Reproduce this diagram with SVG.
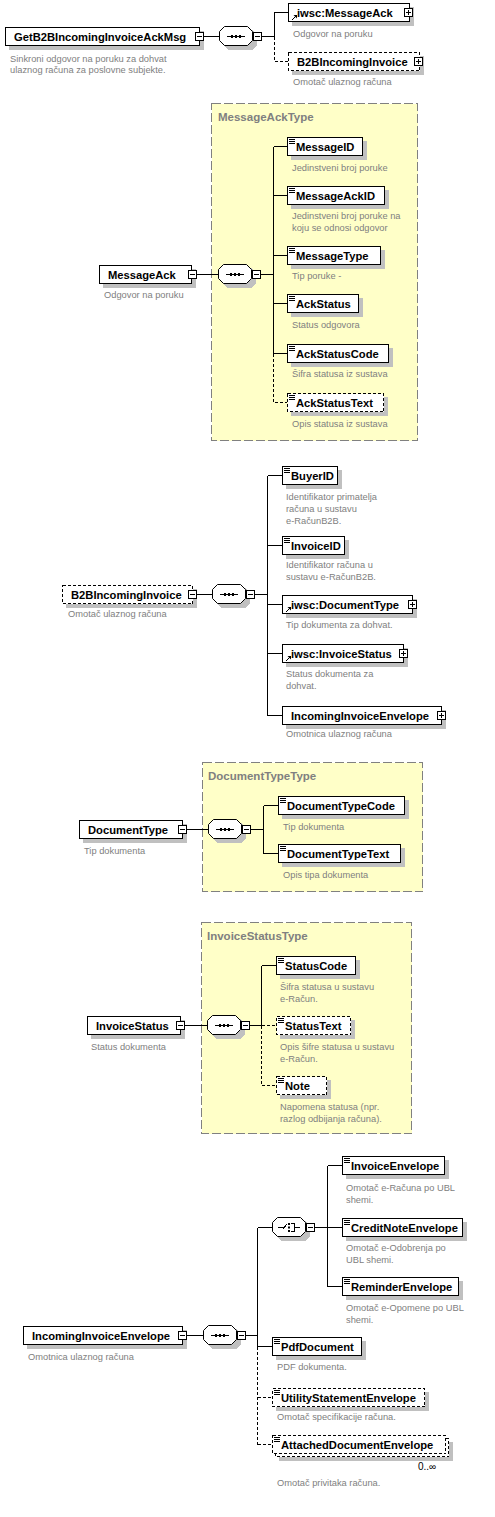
<svg xmlns="http://www.w3.org/2000/svg" width="495" height="1517" viewBox="0 0 495 1517">
<style>
.bg{fill:#ffffff}
.box{fill:#ffffff;stroke:#000;stroke-width:1;shape-rendering:crispEdges}
.dbox{fill:#ffffff;stroke:#000;stroke-width:1;stroke-dasharray:3,2;shape-rendering:crispEdges}
.sh{fill:#c0c0c0;stroke:none;shape-rendering:crispEdges}
.ylw{fill:#ffffc8;stroke:#808080;stroke-width:1;stroke-dasharray:9,3;shape-rendering:crispEdges}
.name{font-family:"Liberation Sans",Arial,sans-serif;font-weight:bold;font-size:11.2px;fill:#000}
.ttl{font-family:"Liberation Sans",Arial,sans-serif;font-weight:bold;font-size:11.5px;fill:#808080}
.desc{font-family:"Liberation Sans",Arial,sans-serif;font-size:9.3px;fill:#808080}
.occ{font-family:"Liberation Sans",Arial,sans-serif;font-size:10px;fill:#000}
.ln{stroke:#000;stroke-width:1;fill:none;shape-rendering:crispEdges}
.dl{stroke:#000;stroke-width:1;fill:none;stroke-dasharray:3,2;shape-rendering:crispEdges}
.oct{fill:#ffffff;stroke:#000;stroke-width:1}
.blk{fill:#000;stroke:none}
</style>
<defs>
<g id="minus"><rect class="box" x="0.5" y="0.5" width="8" height="8"/><line class="ln" x1="2" y1="4.5" x2="7" y2="4.5"/></g>
<g id="plus"><rect class="box" x="0.5" y="0.5" width="8" height="8"/><line class="ln" x1="2" y1="4.5" x2="7" y2="4.5"/><line class="ln" x1="4.5" y1="2" x2="4.5" y2="7"/></g>
<g id="seq">
<polygon class="sh" points="9,4 33,4 38,9 38,19 33,24 9,24 4,19 4,9"/>
<polygon class="oct" points="5.5,0.5 28.5,0.5 33.5,5.5 33.5,14.5 28.5,19.5 5.5,19.5 0.5,14.5 0.5,5.5"/>
<line class="ln" x1="8" y1="10.5" x2="26" y2="10.5"/>
<rect class="blk" x="12" y="9" width="2" height="3"/><rect class="blk" x="16" y="9" width="2" height="3"/><rect class="blk" x="20" y="9" width="2" height="3"/>
</g>
<g id="cho">
<polygon class="sh" points="9,4 33,4 38,9 38,19 33,24 9,24 4,19 4,9"/>
<polygon class="oct" points="5.5,0.5 28.5,0.5 33.5,5.5 33.5,14.5 28.5,19.5 5.5,19.5 0.5,14.5 0.5,5.5"/>
<path class="ln" d="M6,10.5 H11 M10.5,12.5 L14.5,7.5"/>
<rect class="blk" x="16" y="6" width="2" height="2"/><rect class="blk" x="16" y="9.5" width="2" height="2"/><rect class="blk" x="16" y="13" width="2" height="2"/>
<path class="ln" d="M19,6.5 H22.5 V14.5 H19 M22.5,10.5 H28"/>
</g>
<g id="eq"><path class="ln" d="M2,2.5 H8 M2,4.5 H8 M2,6.5 H8"/></g>
<g id="ref"><path class="ln" d="M2,0 L6,-4"/><polygon class="blk" points="3.5,-5 7,-5 7,-1.5"/></g>
</defs>
<rect class="bg" x="0" y="0" width="495" height="1517"/>

<!-- yellow type boxes -->
<g id="MessageAckType">
<rect class="ylw" x="211.5" y="103.5" width="206" height="337"/>
<text class="ttl" x="218" y="121">MessageAckType</text>
</g>
<g id="DocumentTypeType">
<rect class="ylw" x="202.5" y="762.5" width="220" height="129"/>
<text class="ttl" x="208" y="780">DocumentTypeType</text>
</g>
<g id="InvoiceStatusType">
<rect class="ylw" x="201.5" y="922.5" width="210" height="211"/>
<text class="ttl" x="207" y="940">InvoiceStatusType</text>
</g>

<!-- connectors -->
<g id="connectors">
<path class="ln" d="M204,36.5 H219 M262,36.5 H274.5 M274.5,36.5 V12.5 H288"/>
<path class="dl" d="M274.5,36.5 V61.5 H288"/>
<path class="ln" d="M197,274.5 H218 M261,274.5 H273.5 M273.5,146.5 V353.5 M273.5,146.5 H287 M273.5,195.5 H287 M273.5,255.5 H287 M273.5,303.5 H287 M273.5,353.5 H287"/>
<path class="dl" d="M273.5,353.5 V402.5 H287"/>
<path class="ln" d="M197,594.5 H212 M255,594.5 H267.5 M267.5,475.5 V715.5 M267.5,475.5 H282 M267.5,545.5 H282 M267.5,604.5 H282 M267.5,653.5 H282 M267.5,715.5 H282"/>
<path class="ln" d="M187,829.5 H208 M251,829.5 H263.5 M263.5,805.5 V853.5 M263.5,805.5 H278 M263.5,853.5 H278"/>
<path class="ln" d="M185,1025.5 H207 M250,1025.5 H261.5 M261.5,965.5 V1025.5 M261.5,965.5 H276"/>
<path class="dl" d="M261.5,1025.5 H276 M261.5,1025.5 V1085.5 H276"/>
<path class="ln" d="M187,1335.5 H203 M246,1335.5 H257.5 M257.5,1227.5 V1346.5 M257.5,1227.5 H272 M257.5,1346.5 H272 M315,1227.5 H327.5 M327.5,1165.5 V1286.5 M327.5,1165.5 H342 M327.5,1227.5 H342 M327.5,1286.5 H342"/>
<path class="dl" d="M257.5,1346.5 V1444.5 M257.5,1397.5 H272 M257.5,1444.5 H272"/>
</g>

<!-- section 1 -->
<g id="GetB2BIncomingInvoiceAckMsg">
<rect class="sh" x="9" y="31" width="195" height="19"/>
<rect class="box" x="5.5" y="27.5" width="194" height="18"/>
<text class="name" x="14" y="41">GetB2BIncomingInvoiceAckMsg</text>
<use href="#minus" x="195" y="32"/>
<text class="desc" x="10" y="62">Sinkroni odgovor na poruku za dohvat</text>
<text class="desc" x="10" y="73">ulaznog računa za poslovne subjekte.</text>
</g>
<g id="seq1"><use href="#seq" x="219" y="26"/><use href="#minus" x="253" y="32"/></g>
<g id="iwsc_MessageAck">
<rect class="sh" x="292" y="7" width="122" height="19"/>
<rect class="box" x="288.5" y="3.5" width="121" height="18"/>
<use href="#ref" x="290" y="20"/>
<text class="name" x="297" y="17">iwsc:MessageAck</text>
<use href="#plus" x="404" y="8"/>
<text class="desc" x="293" y="37">Odgovor na poruku</text>
</g>
<g id="B2BIncomingInvoice_ref">
<rect class="sh" x="292" y="56" width="132" height="19"/>
<rect class="dbox" x="288.5" y="52.5" width="131" height="18"/>
<text class="name" x="297" y="66">B2BIncomingInvoice</text>
<use href="#plus" x="414" y="57"/>
<text class="desc" x="293" y="85">Omotač ulaznog računa</text>
</g>

<!-- section 2 -->
<g id="MessageAck">
<rect class="sh" x="103" y="269" width="93" height="19"/>
<rect class="box" x="99.5" y="265.5" width="92" height="18"/>
<text class="name" x="108" y="279">MessageAck</text>
<use href="#minus" x="188" y="270"/>
<text class="desc" x="104" y="298">Odgovor na poruku</text>
</g>
<g id="seq2"><use href="#seq" x="218" y="264"/><use href="#minus" x="252" y="270"/></g>
<g id="MessageID">
<rect class="sh" x="291" y="141" width="76" height="19"/>
<rect class="box" x="287.5" y="137.5" width="75" height="18"/>
<use href="#eq" x="287" y="137"/>
<text class="name" x="296" y="151">MessageID</text>
<text class="desc" x="292" y="171">Jedinstveni broj poruke</text>
</g>
<g id="MessageAckID">
<rect class="sh" x="291" y="190" width="98" height="19"/>
<rect class="box" x="287.5" y="186.5" width="97" height="18"/>
<use href="#eq" x="287" y="186"/>
<text class="name" x="296" y="200">MessageAckID</text>
<text class="desc" x="292" y="219">Jedinstveni broj poruke na</text>
<text class="desc" x="292" y="231">koju se odnosi odgovor</text>
</g>
<g id="MessageType">
<rect class="sh" x="291" y="250" width="94" height="19"/>
<rect class="box" x="287.5" y="246.5" width="93" height="18"/>
<use href="#eq" x="287" y="246"/>
<text class="name" x="296" y="260">MessageType</text>
<text class="desc" x="292" y="279">Tip poruke -</text>
</g>
<g id="AckStatus">
<rect class="sh" x="291" y="298" width="72" height="19"/>
<rect class="box" x="287.5" y="294.5" width="71" height="18"/>
<use href="#eq" x="287" y="294"/>
<text class="name" x="296" y="308">AckStatus</text>
<text class="desc" x="292" y="328">Status odgovora</text>
</g>
<g id="AckStatusCode">
<rect class="sh" x="291" y="348" width="102" height="19"/>
<rect class="box" x="287.5" y="344.5" width="101" height="18"/>
<use href="#eq" x="287" y="344"/>
<text class="name" x="296" y="358">AckStatusCode</text>
<text class="desc" x="292" y="377">Šifra statusa iz sustava</text>
</g>
<g id="AckStatusText">
<rect class="sh" x="291" y="397" width="97" height="19"/>
<rect class="dbox" x="287.5" y="393.5" width="96" height="18"/>
<use href="#eq" x="287" y="393"/>
<text class="name" x="296" y="407">AckStatusText</text>
<text class="desc" x="292" y="427">Opis statusa iz sustava</text>
</g>

<!-- section 3 -->
<g id="B2BIncomingInvoice">
<rect class="sh" x="66" y="589" width="131" height="19"/>
<rect class="dbox" x="62.5" y="585.5" width="130" height="18"/>
<text class="name" x="71" y="599">B2BIncomingInvoice</text>
<use href="#minus" x="188" y="590"/>
<text class="desc" x="68" y="617">Omotač ulaznog računa</text>
</g>
<g id="seq3"><use href="#seq" x="212" y="584"/><use href="#minus" x="246" y="590"/></g>
<g id="BuyerID">
<rect class="sh" x="286" y="470" width="56" height="19"/>
<rect class="box" x="282.5" y="466.5" width="55" height="18"/>
<use href="#eq" x="282" y="466"/>
<text class="name" x="291" y="480">BuyerID</text>
<text class="desc" x="286" y="500">Identifikator primatelja</text>
<text class="desc" x="286" y="512">računa u sustavu</text>
<text class="desc" x="286" y="524">e-RačunB2B.</text>
</g>
<g id="InvoiceID">
<rect class="sh" x="286" y="540" width="63" height="19"/>
<rect class="box" x="282.5" y="536.5" width="62" height="18"/>
<use href="#eq" x="282" y="536"/>
<text class="name" x="291" y="550">InvoiceID</text>
<text class="desc" x="286" y="568">Identifikator računa u</text>
<text class="desc" x="286" y="580">sustavu e-RačunB2B.</text>
</g>
<g id="iwsc_DocumentType">
<rect class="sh" x="286" y="599" width="131" height="19"/>
<rect class="box" x="282.5" y="595.5" width="130" height="18"/>
<use href="#ref" x="284" y="612"/>
<text class="name" x="291" y="609">iwsc:DocumentType</text>
<use href="#plus" x="408" y="600"/>
<text class="desc" x="286" y="628">Tip dokumenta za dohvat.</text>
</g>
<g id="iwsc_InvoiceStatus">
<rect class="sh" x="286" y="648" width="122" height="19"/>
<rect class="box" x="282.5" y="644.5" width="121" height="18"/>
<use href="#ref" x="284" y="661"/>
<text class="name" x="291" y="658">iwsc:InvoiceStatus</text>
<use href="#plus" x="399" y="649"/>
<text class="desc" x="286" y="677">Status dokumenta za</text>
<text class="desc" x="286" y="689">dohvat.</text>
</g>
<g id="IncomingInvoiceEnvelope_ref">
<rect class="sh" x="286" y="710" width="160" height="19"/>
<rect class="box" x="282.5" y="706.5" width="159" height="18"/>
<text class="name" x="291" y="720">IncomingInvoiceEnvelope</text>
<use href="#plus" x="437" y="711"/>
<text class="desc" x="286" y="737">Omotnica ulaznog računa</text>
</g>

<!-- section 4 -->
<g id="DocumentType">
<rect class="sh" x="83" y="824" width="104" height="19"/>
<rect class="box" x="79.5" y="820.5" width="103" height="18"/>
<text class="name" x="88" y="834">DocumentType</text>
<use href="#minus" x="178" y="825"/>
<text class="desc" x="84" y="854">Tip dokumenta</text>
</g>
<g id="seq4"><use href="#seq" x="208" y="819"/><use href="#minus" x="242" y="825"/></g>
<g id="DocumentTypeCode">
<rect class="sh" x="282" y="800" width="127" height="19"/>
<rect class="box" x="278.5" y="796.5" width="126" height="18"/>
<use href="#eq" x="278" y="796"/>
<text class="name" x="287" y="810">DocumentTypeCode</text>
<text class="desc" x="283" y="830">Tip dokumenta</text>
</g>
<g id="DocumentTypeText">
<rect class="sh" x="282" y="848" width="123" height="19"/>
<rect class="box" x="278.5" y="844.5" width="122" height="18"/>
<use href="#eq" x="278" y="844"/>
<text class="name" x="287" y="858">DocumentTypeText</text>
<text class="desc" x="283" y="878">Opis tipa dokumenta</text>
</g>

<!-- section 5 -->
<g id="InvoiceStatus">
<rect class="sh" x="91" y="1020" width="94" height="19"/>
<rect class="box" x="87.5" y="1016.5" width="93" height="18"/>
<text class="name" x="96" y="1030">InvoiceStatus</text>
<use href="#minus" x="176" y="1021"/>
<text class="desc" x="91" y="1050">Status dokumenta</text>
</g>
<g id="seq5"><use href="#seq" x="207" y="1015"/><use href="#minus" x="241" y="1021"/></g>
<g id="StatusCode">
<rect class="sh" x="280" y="960" width="80" height="19"/>
<rect class="box" x="276.5" y="956.5" width="79" height="18"/>
<use href="#eq" x="276" y="956"/>
<text class="name" x="285" y="970">StatusCode</text>
<text class="desc" x="280" y="990">Šifra statusa u sustavu</text>
<text class="desc" x="280" y="1002">e-Račun.</text>
</g>
<g id="StatusText">
<rect class="sh" x="280" y="1020" width="75" height="19"/>
<rect class="dbox" x="276.5" y="1016.5" width="74" height="18"/>
<use href="#eq" x="276" y="1016"/>
<text class="name" x="285" y="1030">StatusText</text>
<text class="desc" x="280" y="1050">Opis šifre statusa u sustavu</text>
<text class="desc" x="280" y="1062">e-Račun.</text>
</g>
<g id="Note">
<rect class="sh" x="280" y="1080" width="51" height="19"/>
<rect class="dbox" x="276.5" y="1076.5" width="50" height="18"/>
<use href="#eq" x="276" y="1076"/>
<text class="name" x="285" y="1090">Note</text>
<text class="desc" x="280" y="1110">Napomena statusa (npr.</text>
<text class="desc" x="280" y="1122">razlog odbijanja računa).</text>
</g>

<!-- section 6 -->
<g id="IncomingInvoiceEnvelope">
<rect class="sh" x="27" y="1330" width="160" height="19"/>
<rect class="box" x="23.5" y="1326.5" width="159" height="18"/>
<text class="name" x="32" y="1340">IncomingInvoiceEnvelope</text>
<use href="#minus" x="178" y="1331"/>
<text class="desc" x="28" y="1360">Omotnica ulaznog računa</text>
</g>
<g id="seq6"><use href="#seq" x="203" y="1325"/><use href="#minus" x="237" y="1331"/></g>
<g id="choice"><use href="#cho" x="272" y="1217"/><use href="#minus" x="306" y="1223"/></g>
<g id="InvoiceEnvelope">
<rect class="sh" x="346" y="1160" width="103" height="19"/>
<rect class="box" x="342.5" y="1156.5" width="102" height="18"/>
<use href="#eq" x="342" y="1156"/>
<text class="name" x="351" y="1170">InvoiceEnvelope</text>
<text class="desc" x="346" y="1191">Omotač e-Računa po UBL</text>
<text class="desc" x="346" y="1203">shemi.</text>
</g>
<g id="CreditNoteEnvelope">
<rect class="sh" x="346" y="1222" width="121" height="19"/>
<rect class="box" x="342.5" y="1218.5" width="120" height="18"/>
<use href="#eq" x="342" y="1218"/>
<text class="name" x="351" y="1232">CreditNoteEnvelope</text>
<text class="desc" x="346" y="1251">Omotač e-Odobrenja po</text>
<text class="desc" x="346" y="1263">UBL shemi.</text>
</g>
<g id="ReminderEnvelope">
<rect class="sh" x="346" y="1281" width="117" height="19"/>
<rect class="box" x="342.5" y="1277.5" width="116" height="18"/>
<use href="#eq" x="342" y="1277"/>
<text class="name" x="351" y="1291">ReminderEnvelope</text>
<text class="desc" x="346" y="1311">Omotač e-Opomene po UBL</text>
<text class="desc" x="346" y="1323">shemi.</text>
</g>
<g id="PdfDocument">
<rect class="sh" x="276" y="1341" width="90" height="19"/>
<rect class="box" x="272.5" y="1337.5" width="89" height="18"/>
<use href="#eq" x="272" y="1337"/>
<text class="name" x="281" y="1351">PdfDocument</text>
<text class="desc" x="277" y="1370">PDF dokumenta.</text>
</g>
<g id="UtilityStatementEnvelope">
<rect class="sh" x="276" y="1392" width="153" height="19"/>
<rect class="dbox" x="272.5" y="1388.5" width="152" height="18"/>
<use href="#eq" x="272" y="1388"/>
<text class="name" x="281" y="1402">UtilityStatementEnvelope</text>
<text class="desc" x="277" y="1420">Omotač specifikacije računa.</text>
</g>
<g id="AttachedDocumentEnvelope">
<rect class="sh" x="279" y="1442" width="174" height="19"/>
<rect class="dbox" x="275.5" y="1438.5" width="173" height="18"/>
<rect class="dbox" x="272.5" y="1435.5" width="173" height="18"/>
<use href="#eq" x="272" y="1435"/>
<text class="name" x="281" y="1449">AttachedDocumentEnvelope</text>
<text class="occ" x="418" y="1470">0..∞</text>
<text class="desc" x="277" y="1486">Omotač privitaka računa.</text>
</g>
</svg>
